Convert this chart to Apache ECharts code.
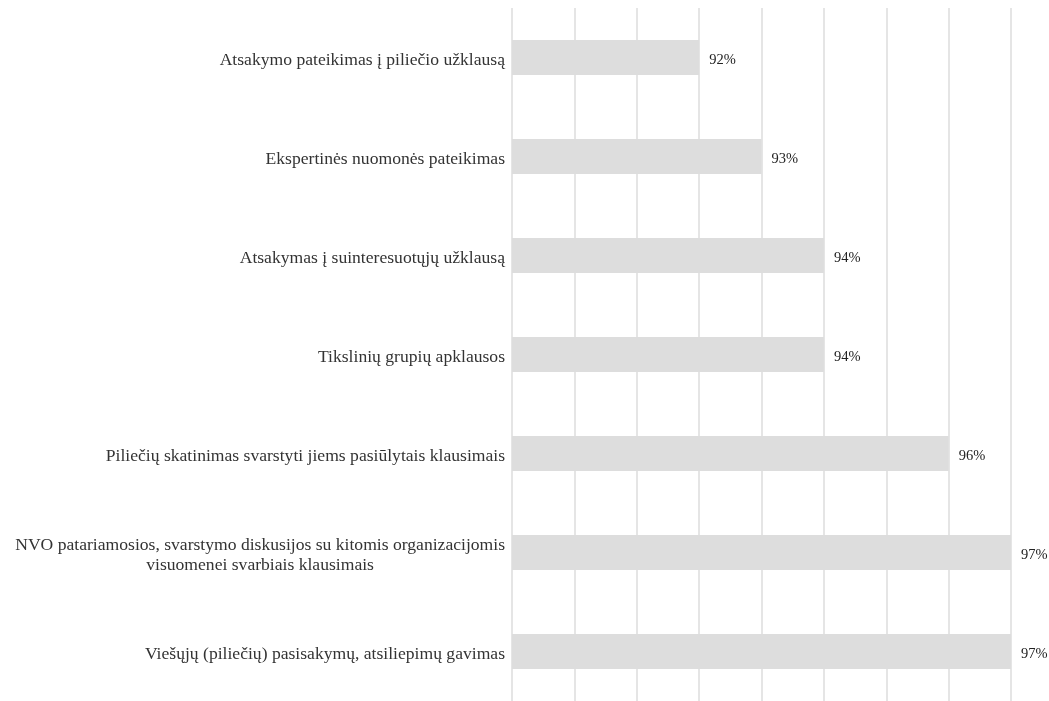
<!DOCTYPE html>
<html>
<head>
<meta charset="utf-8">
<script src="https://cdn.jsdelivr.net/npm/echarts@6/dist/echarts.min.js"></script>
<style>
  html, body { margin: 0; padding: 0; background: #ffffff; }
  #main { width: 1049px; height: 701px; }
</style>
</head>
<body>
<div id="main"></div>
<script>
// categories, top to bottom
var categories = [
	'Atsakymo pateikimas į piliečio užklausą',
	'Ekspertinės nuomonės pateikimas',
	'Atsakymas į suinteresuotųjų užklausą',
	'Tikslinių grupių apklausos',
	'Piliečių skatinimas svarstyti jiems pasiūlytais klausimais',
	'NVO patariamosios, svarstymo diskusijos su kitomis organizacijomis\nvisuomenei svarbiais klausimais',
	'Viešųjų (piliečių) pasisakymų, atsiliepimų gavimas'
];
var values = [92, 93, 94, 94, 96, 97, 97];

var FONT = '"Liberation Serif", "DejaVu Serif", serif';
var labelSize = 17.6;

// width of the longest wrapped line, so the second line can be centred under it
var ctx = document.createElement('canvas').getContext('2d');
ctx.font = labelSize + 'px ' + FONT;
var lineW = 0;
categories.forEach(function (c) {
	if (c.indexOf('\n') < 0) return;
	c.split('\n').forEach(function (l) {
		lineW = Math.max(lineW, ctx.measureText(l).width);
	});
});

window.onload = () => {
	var myChart = echarts.init(document.getElementById('main'));

	var option = {
		animation: false,
		backgroundColor: '#ffffff',
		grid: { left: 512, right: 38, top: 8, bottom: -7, containLabel: false },
		xAxis: {
			type: 'value',
			min: 89,
			max: 97,
			interval: 1,
			axisLabel: { show: false },
			axisLine: { show: false },
			axisTick: { show: false },
			splitLine: { show: true, lineStyle: { color: '#dcdcdc', width: 1.5 } }
		},
		yAxis: {
			type: 'category',
			inverse: true,
			data: categories,
			axisLine: { show: false },
			axisTick: { show: false },
			axisLabel: {
				margin: 7,
				color: '#333333',
				fontFamily: FONT,
				fontSize: labelSize,
				padding: [5, 0, 0, 0],
				formatter: function (v) {
					if (v.indexOf('\n') < 0) return v;
					return v.split('\n').map(function (l) { return '{c|' + l + '}'; }).join('\n');
				},
				rich: {
					c: {
						width: lineW,
						align: 'center',
						color: '#333333',
						fontFamily: FONT,
						fontSize: labelSize,
						lineHeight: 20
					}
				}
			}
		},
		series: [{
			type: 'bar',
			data: values,
			barWidth: 35,
			itemStyle: { color: '#dddddd' },
			label: {
				show: true,
				position: 'right',
				distance: 10,
				offset: [0, 3],
				formatter: '{c}%',
				color: '#222222',
				fontFamily: FONT,
				fontSize: 14.5
			}
		}]
	};

	myChart.setOption(option);
};
</script>
</body>
</html>
